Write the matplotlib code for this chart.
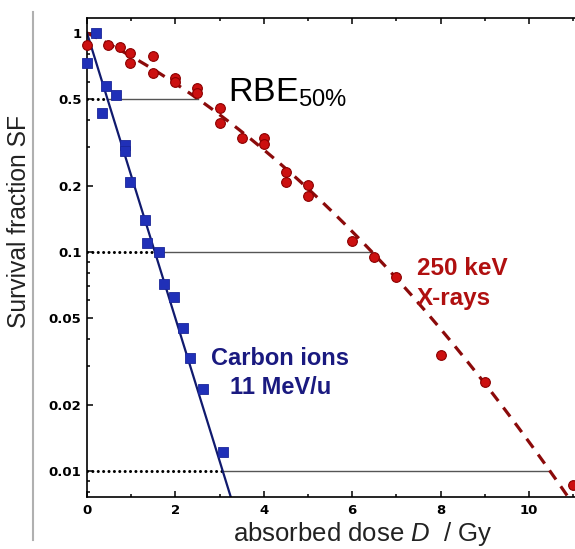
import numpy as np
import matplotlib
matplotlib.use("Agg")
import matplotlib.pyplot as plt
from matplotlib.lines import Line2D

plt.rcParams['mathtext.fontset'] = 'custom'
plt.rcParams['mathtext.rm'] = 'Liberation Sans'
plt.rcParams['mathtext.it'] = 'Liberation Sans:italic'
plt.rcParams['mathtext.bf'] = 'Liberation Sans:bold'

# ---------------- data ----------------
xray_dose = [0.0, 0.48, 0.75, 0.98, 0.98, 1.5, 1.5, 2.0, 2.0, 2.49, 2.49, 3.0, 3.0,
             3.5, 4.0, 4.0, 4.5, 4.5, 5.0, 5.0, 6.0, 6.5, 7.0, 8.0, 9.0, 11.0]
xray_sf = [0.88, 0.88, 0.86, 0.81, 0.73, 0.785, 0.657, 0.62, 0.597, 0.56, 0.532, 0.455, 0.388,
           0.331, 0.331, 0.311, 0.232, 0.209, 0.202, 0.18, 0.112, 0.095, 0.077, 0.034, 0.0255, 0.0086]

carbon_dose = [0.0, 0.2, 0.34, 0.44, 0.66, 0.86, 0.86, 0.97, 1.31, 1.36, 1.63,
               1.74, 1.97, 2.17, 2.33, 2.62, 3.07]
carbon_sf = [0.73, 1.0, 0.43, 0.575, 0.52, 0.308, 0.288, 0.209, 0.14, 0.11, 0.1,
             0.0713, 0.0623, 0.045, 0.0327, 0.0237, 0.0122]

# fitted survival models (parameters)
carbon_alpha = 1.50            # 1/Gy, pure exponential
xray_alpha = 0.225             # 1/Gy, linear-quadratic
xray_beta = 0.0205             # 1/Gy^2

ref_levels = [0.5, 0.1, 0.01]

x_ticks = [0, 2, 4, 6, 8, 10]
x_minor = [1, 3, 5, 7, 9, 11]
y_ticks = [0.01, 0.02, 0.05, 0.1, 0.2, 0.5, 1]
y_tick_labels = ['0.01', '0.02', '0.05', '0.1', '0.2', '0.5', '1']
y_minor = [0.008, 0.009, 0.03, 0.04, 0.06, 0.07, 0.08, 0.09,
           0.3, 0.4, 0.6, 0.7, 0.8, 0.9]

# ---------------- figure ----------------
W, H = 575, 549
fig = plt.figure(figsize=(W / 100, H / 100), dpi=100)
ax = fig.add_axes([87 / W, 52 / H, 495 / W, 479 / H])
ax.set_yscale('log')
ax.set_xlim(0, 11.2)
ax.set_ylim(0.0076, 1.17)


def carbon_D(sf):
    return -np.log(sf) / carbon_alpha


def xray_D(sf):
    c = -np.log(sf)
    return (-xray_alpha + np.sqrt(xray_alpha ** 2 + 4 * xray_beta * c)) / (2 * xray_beta)


# reference lines
for lev in ref_levels:
    dc = carbon_D(lev)
    dx = xray_D(lev)
    ax.plot([0, dc], [lev, lev], color='black', lw=2.2, linestyle=(0, (0.01, 1.75)),
            dash_capstyle='round', zorder=2)
    ax.plot([dc, dx], [lev, lev], color='#555555', lw=1.0, zorder=1)

# fitted curves
dd = np.linspace(0, 11.3, 300)
ax.plot(dd, np.exp(-xray_alpha * dd - xray_beta * dd ** 2), color='#8b0a0a', lw=2.3,
        dashes=(3.5, 2.6), zorder=2)
dc_end = carbon_D(0.0076)
ax.plot([0, dc_end], [1.0, np.exp(-carbon_alpha * dc_end)], color='#101a6e', lw=1.6, zorder=2)

# data points
ax.plot(xray_dose, xray_sf, 'o', ms=7, color='#cc1010', mec='#8b0000', mew=0.8,
        zorder=4, clip_on=False)
ax.plot(carbon_dose, carbon_sf, 's', ms=7, color='#2030b8', mec='#1a2699', mew=0.6,
        zorder=4, clip_on=False)

# ticks
ax.set_xticks(x_ticks)
ax.set_xticks(x_minor, minor=True)
ax.set_yticks(y_ticks)
ax.set_yticklabels(y_tick_labels)
ax.set_yticks(y_minor, minor=True)
ax.yaxis.set_minor_formatter(plt.NullFormatter())
ax.tick_params(which='both', direction='in', top=True, right=True, width=1.1)
ax.tick_params(which='major', length=4)
ax.tick_params(which='minor', length=2.5)
ax.tick_params(axis='y', pad=4)
ax.tick_params(axis='x', pad=5)
for lab in ax.get_xticklabels() + ax.get_yticklabels():
    lab.set_fontfamily('DejaVu Sans')
    lab.set_fontweight('bold')
    lab.set_fontsize(9.5)
for sp in ax.spines.values():
    sp.set_linewidth(1.2)

# annotations
ax.text(3.19, 0.484, r'RBE$_{\mathrm{50\%}}$', fontsize=24.5, family='Liberation Sans',
        ha='left', va='baseline', color='black')
ax.text(4.37, 0.0305, 'Carbon ions', fontsize=17, fontweight='bold', family='Liberation Sans',
        ha='center', va='baseline', color='#1a1a80')
ax.text(4.37, 0.0225, '11 MeV/u', fontsize=17, fontweight='bold', family='Liberation Sans',
        ha='center', va='baseline', color='#1a1a80')
ax.text(7.47, 0.0785, '250 keV', fontsize=17.5, fontweight='bold', family='Liberation Sans',
        ha='left', va='baseline', color='#b01010')
ax.text(7.47, 0.0573, 'X-rays', fontsize=17.5, fontweight='bold', family='Liberation Sans',
        ha='left', va='baseline', color='#b01010')

# axis labels
fig.text(233 / W, (H - 541) / H, r'absorbed dose $D$  / Gy', fontsize=18.5,
         family='Liberation Sans', ha='left', va='baseline', color='#222222')
fig.text(26 / W, 1 - 221.5 / H, 'Survival fraction SF', fontsize=17.7,
         family='Liberation Sans', rotation=90, ha='center', va='baseline', color='#222222',
         rotation_mode='anchor')

# slide artefact: thin grey vertical rule on the left
fig.add_artist(Line2D([33 / W, 33 / W], [1 - 12 / H, 1 - 540 / H], color='#b0b0b0', lw=1.5,
                      transform=fig.transFigure))

fig.savefig('out.png', dpi=100)
